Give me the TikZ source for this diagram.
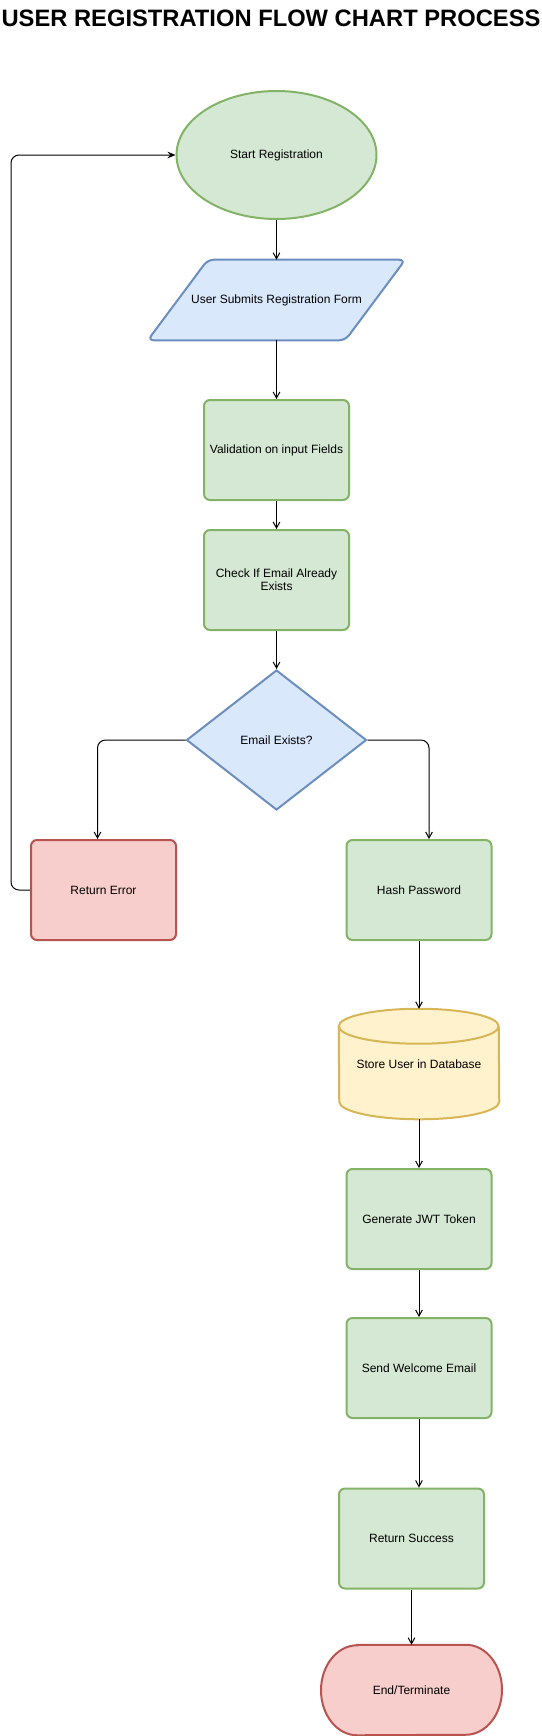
\documentclass[tikz,border=0pt]{standalone}
\usepackage{fontspec}
\setmainfont{Liberation Sans}
\usetikzlibrary{shapes.geometric,arrows.meta,backgrounds}
\definecolor{greenfill}{HTML}{D5E8D4}
\definecolor{greenline}{HTML}{82B366}
\definecolor{bluefill}{HTML}{DAE8FC}
\definecolor{blueline}{HTML}{6C8EBF}
\definecolor{redfill}{HTML}{F8CECC}
\definecolor{redline}{HTML}{B85450}
\definecolor{yellowfill}{HTML}{FFF2CC}
\definecolor{yellowline}{HTML}{D6B656}
\begin{document}
\begin{tikzpicture}[x=0.75pt,y=0.75pt]
  \tikzstyle{every node}=[font=\fontsize{9}{10}\selectfont,align=center,inner sep=0pt]
  \tikzstyle{greenbox}=[draw=greenline,fill=greenfill,line width=1.5pt,rounded corners=4.5pt,minimum width=108.75pt,minimum height=75pt]
  \tikzstyle{redbox}=[greenbox,draw=redline,fill=redfill]
  \tikzstyle{arrow}=[-{Straight Barb[length=4.5pt,width=5pt]},line width=0.75pt]
  \useasboundingbox (0,0) rectangle (542,-1736);
  \node (title) at (271,-26) [anchor=base,font=\fontsize{17.8}{20}\selectfont\bfseries] {USER REGISTRATION FLOW CHART PROCESS};
  \node (start) at (276.5,-155) [ellipse,draw=greenline,fill=greenfill,line width=1.5pt,minimum width=150pt,minimum height=96pt] {Start Registration};
  \node (form) at (276.5,-300) [minimum width=192.75pt,minimum height=60pt] {User Submits Registration Form};
  \node (valid) at (276.5,-450) [greenbox] {Validation on input Fields};
  \node (check) at (276.5,-580) [greenbox] {Check If Email Already\\Exists};
  \node (exists) at (276.5,-740) [diamond,aspect=1.28,draw=blueline,fill=bluefill,line width=1.5pt,minimum width=135pt,minimum height=105pt] {Email Exists?};
  \node (error) at (103.5,-890) [redbox] {Return Error};
  \node (hash) at (419,-890) [greenbox] {Hash Password};
  \node (store) at (419,-1064) [minimum width=120pt,minimum height=82.5pt] {Store User in Database};
  \node (token) at (419,-1219) [greenbox] {Generate JWT Token};
  \node (mail) at (419,-1368) [greenbox] {Send Welcome Email};
  \node (success) at (411.5,-1538.5) [greenbox] {Return Success};
  \node (stop) at (411.5,-1690) [minimum width=135.75pt,minimum height=67.5pt] {End/Terminate};
  \begin{scope}[on background layer]
    \draw [draw=blueline,fill=bluefill,line width=1.5pt,rounded corners=4.5pt] (form.south west) -- ([xshift=-45pt]form.south east) -- (form.north east) -- ([xshift=45pt]form.north west) -- cycle;
    \draw [draw=yellowline,fill=yellowfill,line width=1.5pt] ([yshift=-13.125pt]store.north west) arc[start angle=180,end angle=0,x radius=60pt,y radius=13.125pt] -- ([yshift=13.125pt]store.south east) arc[start angle=0,end angle=-180,x radius=60pt,y radius=13.125pt] -- cycle;
    \draw [draw=yellowline,line width=1.5pt] ([yshift=-13.125pt]store.north west) arc[start angle=180,end angle=360,x radius=60pt,y radius=13.125pt];
    \draw [draw=redline,fill=redfill,line width=1.5pt] ([xshift=-40.725pt]stop.north) -- ([xshift=40.725pt]stop.north) arc[start angle=90,end angle=-90,x radius=27.15pt,y radius=33.75pt] -- ([xshift=-40.725pt]stop.south) arc[start angle=270,end angle=90,x radius=27.15pt,y radius=33.75pt] -- cycle;
  \end{scope}
  \draw [arrow] (start) -- (form);
  \draw [arrow] (form) -- (valid);
  \draw [arrow] (valid) -- (check);
  \draw [arrow] (check) -- (exists);
  \draw [arrow,rounded corners=6pt] (exists.west) -| ([xshift=-4.5pt]error.north);
  \draw [arrow,rounded corners=6pt] (exists.east) -| ([xshift=7.5pt]hash.north);
  \draw [-{Stealth[length=6pt,width=5pt]},line width=0.75pt,rounded corners=6pt] (error.west) -- ++(-19,0) |- (start.west);
  \draw [arrow] (hash) -- (store);
  \draw [arrow] (store) -- (token);
  \draw [arrow] (token) -- (mail);
  \draw [arrow] (mail.south) -- (mail.south |- success.north);
  \draw [arrow] (success) -- (stop);
\end{tikzpicture}
\end{document}
